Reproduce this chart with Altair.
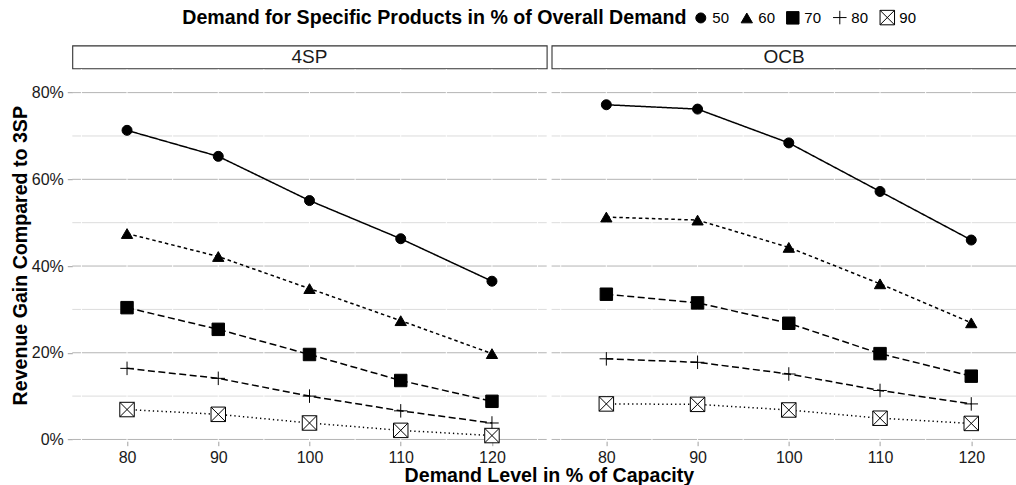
import altair as alt
import pandas as pd

levels = [80, 90, 100, 110, 120]
shares = ["50", "60", "70", "80", "90"]
panels = ["4SP", "OCB"]

# Revenue gain over 3SP (%) at each demand level, one list per share of specific products
sp4_50 = [71.3, 65.3, 55.1, 46.3, 36.5]
sp4_60 = [47.5, 42.2, 34.8, 27.4, 19.8]
sp4_70 = [30.4, 25.4, 19.6, 13.6, 8.8]
sp4_80 = [16.4, 14.1, 10.0, 6.6, 3.8]
sp4_90 = [6.9, 5.8, 3.8, 2.1, 0.9]

ocb_50 = [77.2, 76.2, 68.4, 57.2, 46.0]
ocb_60 = [51.3, 50.6, 44.3, 35.9, 26.9]
ocb_70 = [33.5, 31.5, 26.8, 19.8, 14.6]
ocb_80 = [18.6, 17.8, 15.1, 11.3, 8.2]
ocb_90 = [8.2, 8.1, 6.8, 4.9, 3.7]

y_major = [0, 20, 40, 60, 80]
y_minor = [10, 30, 50, 70]
x_minor = [75, 85, 95, 105, 115, 125]

FONT = "Liberation Sans"
PLUS = "M-1,0L1,0M0,-1L0,1"
BOXX = "M-1,-1L1,-1L1,1L-1,1ZM-1,-1L1,1M-1,1L1,-1"


def long_table(series):
    rows = []
    for share, values in zip(shares, series):
        for lvl, v in zip(levels, values):
            rows.append({"level": lvl, "share": share, "gain": v})
    return pd.DataFrame(rows)


data_4sp = long_table([sp4_50, sp4_60, sp4_70, sp4_80, sp4_90])
data_ocb = long_table([ocb_50, ocb_60, ocb_70, ocb_80, ocb_90])

W1 = 474.4
W2 = 465.0
H = 372.0
PX_PER_UNIT = W1 / 52.0
x_dom1 = [74, 126]
x_dom2 = [74, 74 + W2 / PX_PER_UNIT]
y_dom = [-0.4, 85.4]

# legend drawn once, attached to the left panel (its origin is the panel's top-left)
legend = alt.Legend(
    title="Demand for Specific Products in % of Overall Demand",
    orient="none", legendX=110, legendY=-60, direction="horizontal",
    titleOrient="left", titleFont=FONT, titleFontSize=19.6, titleFontWeight="bold",
    titleColor="black", titlePadding=6, titleLimit=0,
    labelFont=FONT, labelFontSize=15, labelColor="black", labelOffset=4,
    symbolStrokeColor="black", symbolStrokeWidth=1, columnPadding=9,
)

shape_scale = alt.Scale(domain=shares, range=["circle", "triangle-up", "square", PLUS, BOXX])
fill_scale = alt.Scale(domain=shares, range=["black", "black", "black", "white", "white"])
stroke_scale = alt.Scale(domain=shares, range=["black"] * len(shares))
size_scale = alt.Scale(domain=shares, range=[100, 210, 120, 190, 115])
dash_scale = alt.Scale(domain=shares, range=[[1, 0], [3.5, 3], [7, 3.5], [7, 3.5], [1.3, 3]])


def x_axis(with_title):
    kw = dict(values=levels, tickSize=4.5, tickColor="#a0a0a0", tickWidth=1,
              domain=False, grid=False, labelFont=FONT, labelFontSize=16,
              labelColor="#1a1a1a", labelPadding=3.5, labelFlush=False)
    if with_title:
        kw.update(title="Demand Level in % of Capacity", titleX=476.6, titleY=40.5,
                  titleBaseline="alphabetic", titleFont=FONT, titleFontSize=19.6,
                  titleFontWeight="bold", titleColor="black")
    else:
        kw.update(title=None)
    return alt.Axis(**kw)


y_axis = alt.Axis(values=y_major, labelExpr="datum.value + '%'", tickSize=5,
                  tickColor="#a0a0a0", tickWidth=1, domain=False, grid=False,
                  labelFont=FONT, labelFontSize=16, labelColor="#1a1a1a", labelPadding=4,
                  title="Revenue Gain Compared to 3SP", titleX=-45.8, titleY=H / 2,
                  titleAngle=270, titleBaseline="alphabetic", titleFont=FONT,
                  titleFontSize=19.6, titleFontWeight="bold", titleColor="black")


def panel(df, x_dom, width, first):
    xs = alt.Scale(domain=x_dom, nice=False, zero=False)
    ys = alt.Scale(domain=y_dom, nice=False, zero=False)
    xa = x_axis(first)
    ya = y_axis if first else None

    def X(field):
        return alt.X(field, scale=xs, axis=xa, title="Demand Level in % of Capacity" if first else None)

    def Y(field):
        return alt.Y(field, scale=ys, axis=ya, title="Revenue Gain Compared to 3SP")

    minor_h = alt.Chart(pd.DataFrame({"v": y_minor})).mark_rule(
        color="#dcdcdc", strokeWidth=1).encode(y=Y("v:Q"))
    major_h = alt.Chart(pd.DataFrame({"v": y_major})).mark_rule(
        color="#b4b4b4", strokeWidth=1).encode(y=Y("v:Q"))
    vert = alt.Chart(pd.DataFrame({"v": levels + x_minor})).mark_rule(
        color="white", strokeWidth=1).encode(x=X("v:Q"))

    lines = alt.Chart(df).mark_line(color="black", strokeWidth=1.5).encode(
        x=X("level:Q"), y=Y("gain:Q"),
        strokeDash=alt.StrokeDash("share:N", scale=dash_scale, legend=None),
    )
    leg = legend if first else None
    points = alt.Chart(df).mark_point(strokeWidth=1, opacity=1, fillOpacity=1).encode(
        x=X("level:Q"), y=Y("gain:Q"),
        shape=alt.Shape("share:N", scale=shape_scale, legend=leg),
        fill=alt.Fill("share:N", scale=fill_scale, legend=leg),
        stroke=alt.Stroke("share:N", scale=stroke_scale, legend=leg),
        size=alt.Size("share:N", scale=size_scale, legend=leg),
    )
    return alt.layer(minor_h, major_h, vert, lines, points).properties(width=width, height=H)


def strip(name, width):
    return alt.Chart(pd.DataFrame({"panel": [name]})).mark_text(
        font=FONT, fontSize=19, color="#1a1a1a", baseline="middle", align="center"
    ).encode(text="panel:N", x=alt.value(width / 2), y=alt.value(11.6)).properties(
        width=width, height=22.8,
        view=alt.ViewBackground(stroke="#333333", strokeWidth=1.1, fill="white"),
    )


chart = alt.concat(
    strip(panels[0], W1), strip(panels[1], W2),
    panel(data_4sp, x_dom1, W1, True), panel(data_ocb, x_dom2, W2, False),
    columns=2,
    spacing={"row": 0.7, "column": 4.3},
    bounds="flush",
).resolve_scale(
    x="independent", shape="shared", fill="shared", stroke="shared", size="shared",
    strokeDash="shared"
).resolve_legend(
    shape="independent", fill="independent", stroke="independent", size="independent"
).properties(
    padding={"left": 72.3, "top": 45.5, "right": 1016 - 72.3, "bottom": 485 - 45.5},
    autosize=alt.AutoSizeParams(type="none"),
    background="white",
).configure(font=FONT).configure_view(strokeWidth=0)

chart.save("out.html", embed_options={"renderer": "svg", "actions": False})
